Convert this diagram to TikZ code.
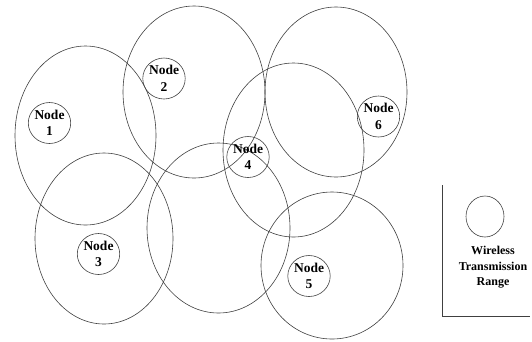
\documentclass[tikz,border=0pt]{standalone}
\usepackage{fontspec}
\setmainfont{Liberation Serif}
\usetikzlibrary{shapes.geometric}
\tikzset{
  range/.style={draw=black!75, line width=0.6pt, ellipse, inner sep=0pt,
    minimum width=#1},
  nodecirc/.style={draw=black!75, line width=0.6pt, ellipse, inner sep=0pt,
    minimum width=34pt, minimum height=41pt, align=center,
    font=\bfseries\fontsize{13.5}{16.5}\selectfont},
  legendtext/.style={align=center, font=\bfseries\fontsize{12}{15.5}\selectfont},
  frame/.style={draw=black!75, line width=0.6pt}
}
\begin{document}
\begin{tikzpicture}[x=1pt,y=-1pt]
\useasboundingbox (0,0) rectangle (532,341);
% transmission ranges
\node[range=141pt, minimum height=179pt] (r1) at (85.5,135.5) {};
\node[range=142pt, minimum height=172pt] (r2) at (194,92) {};
\node[range=142pt, minimum height=170pt] (r6) at (336,92) {};
\node[range=141pt, minimum height=174pt] (r4) at (293.5,150) {};
\node[range=143pt, minimum height=170pt] (rm) at (218.5,228) {};
\node[range=138pt, minimum height=171pt] (r3) at (104,238.5) {};
\node[range=142pt, minimum height=147pt] (r5) at (332,265.5) {};
% nodes
\node[nodecirc] (n1) at (49.5,123) {Node\\1};
\node[nodecirc] (n2) at (164,78.5) {Node\\2};
\node[nodecirc] (n3) at (98.5,254) {Node\\3};
\node[nodecirc] (n4) at (248,157) {Node\\4};
\node[nodecirc] (n5) at (309,276) {Node\\5};
\node[nodecirc] (n6) at (378.5,116.5) {Node\\6};
% legend
\coordinate (lt) at (442,185);
\coordinate (lb) at (442,316);
\coordinate (lr) at (530,316);
\draw[frame] (lt) -- (lb) -- (lr);
\node[draw=black!75, line width=0.6pt, ellipse, inner sep=0pt,
  minimum width=38pt, minimum height=41pt] (lc) at (485,216.5) {};
\node[legendtext] (lbl) at (493,267.5) {Wireless\\Transmission\\Range};
\end{tikzpicture}
\end{document}
